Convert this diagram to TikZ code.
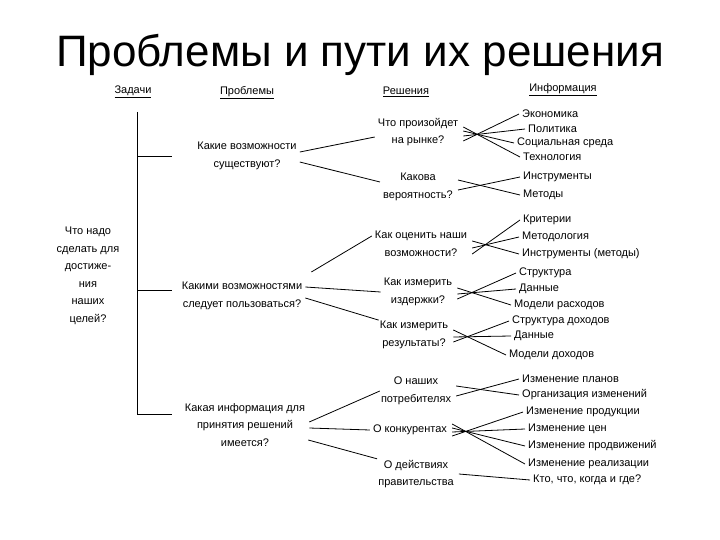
\documentclass[tikz,border=0pt]{standalone}
\usepackage{fontspec}
\setmainfont{Liberation Sans}
\begin{document}
\begin{tikzpicture}[x=1pt,y=-1pt,
  t/.style={font=\fontsize{11}{17.5}\selectfont,align=center,inner sep=1pt},
  i/.style={font=\fontsize{11}{12}\selectfont,anchor=west,inner sep=1pt},
  h/.style={font=\fontsize{11}{12}\selectfont,inner sep=1pt},
  ln/.style={line width=0.8pt}]
\useasboundingbox (0,0) rectangle (720,540);
\node[font=\fontsize{44}{48}\selectfont] (title) at (360,55) {Проблемы и пути их решения};
\node[h] (h1) at (133,92) {\underline{Задачи}};
\node[h] (h2) at (247,93) {\underline{Проблемы}};
\node[h] (h3) at (406,92) {\underline{Решения}};
\node[h] (h4) at (563,90) {\underline{Информация}};
% tasks
\node[t] (task) at (88,276) {Что надо\\сделать для\\достиже-\\ния\\наших\\целей?};
\coordinate (vt) at (137,112); \coordinate (vb) at (137,414);
\coordinate (b1) at (137,156); \coordinate (b1e) at (172,156);
\coordinate (b2) at (137,290); \coordinate (b2e) at (172,290);
\coordinate (b3) at (137,414); \coordinate (b3e) at (172,414);
\draw[ln] (vt) -- (vb);
\draw[ln] (b1) -- (b1e); \draw[ln] (b2) -- (b2e); \draw[ln] (b3) -- (b3e);
% problems
\node[t] (p1) at (247,156) {Какие возможности\\существуют?};
\node[t] (p2) at (242,296) {Какими возможностями\\следует пользоваться?};
\node[t] (p3) at (245,425) {Какая информация для\\принятия решений\\имеется?};
% solutions
\node[t] (s1) at (418,132) {Что произойдет\\на рынке?};
\node[t] (s2) at (418,187) {Какова\\вероятность?};
\node[t] (s3) at (421,244) {Как оценить наши\\возможности?};
\node[t] (s4) at (418,292) {Как измерить\\издержки?};
\node[t] (s5) at (414,335) {Как измерить\\результаты?};
\node[t] (s6) at (416,391) {О наших\\потребителях};
\node[t] (s7) at (410,430) {О конкурентах};
\node[t] (s8) at (416,474) {О действиях\\правительства};
\draw[ln] ([shift={(2,-4)}]p1.east) -- ([shift={(-2,5)}]s1.west);
\draw[ln] ([shift={(2,6)}]p1.east) -- ([shift={(-2,-5)}]s2.west);
\draw[ln] ([shift={(8,-24)}]p2.east) -- ([shift={(-2,-8)}]s3.west);
\draw[ln] ([shift={(2,-9)}]p2.east) -- ([xshift=-2pt]s4.west);
\draw[ln] ([shift={(2,2)}]p2.east) -- (s5.north west);
\draw[ln] ([shift={(3,-3)}]p3.east) -- (s6.west);
\draw[ln] ([shift={(3,3)}]p3.east) -- ([xshift=-2pt]s7.west);
\draw[ln] ([shift={(2,15)}]p3.east) -- (s8.north west);
% info
\node[i] (e1) at (521,114) {Экономика};
\node[i] (e2) at (527,129) {Политика};
\node[i] (e3) at (516,143) {Социальная среда};
\node[i] (e4) at (522,157) {Технология};
\node[i] (e5) at (522,177) {Инструменты};
\node[i] (e6) at (522,195) {Методы};
\node[i] (e7) at (522,220) {Критерии};
\node[i] (e8) at (521,237) {Методология};
\node[i] (e9) at (521,254) {Инструменты (методы)};
\node[i] (e10) at (518,273) {Структура};
\node[i] (e11) at (518,289) {Данные};
\node[i] (e12) at (513,305) {Модели расходов};
\node[i] (e13) at (511,321) {Структура доходов};
\node[i] (e14) at (513,336) {Данные};
\node[i] (e15) at (508,355) {Модели доходов};
\node[i] (e16) at (521,379) {Изменение планов};
\node[i] (e17) at (521,395) {Организация изменений};
\node[i] (e18) at (525,412) {Изменение продукции};
\node[i] (e19) at (527,429) {Изменение цен};
\node[i] (e20) at (527,446) {Изменение продвижений};
\node[i] (e21) at (527,464) {Изменение реализации};
\node[i] (e22) at (532,480) {Кто, что, когда и где?};
\foreach \s/\e/\dy in {s1/e1/-9,s1/e2/-4,s1/e3/1,s1/e4/5,s2/e5/-3,s2/e6/7,s3/e7/-10,s3/e8/-4,s3/e9/3,
  s4/e10/-7,s4/e11/-2,s4/e12/4,s5/e13/-7,s5/e14/-2,s5/e15/5,s6/e16/-5,s6/e17/5,
  s7/e18/-6,s7/e19/-2,s7/e20/2,s7/e21/6,s8/e22/0}
  \draw[ln] ([xshift=4pt,yshift=\dy pt]\s.east) -- ([xshift=-2pt]\e.west);
\end{tikzpicture}
\end{document}
